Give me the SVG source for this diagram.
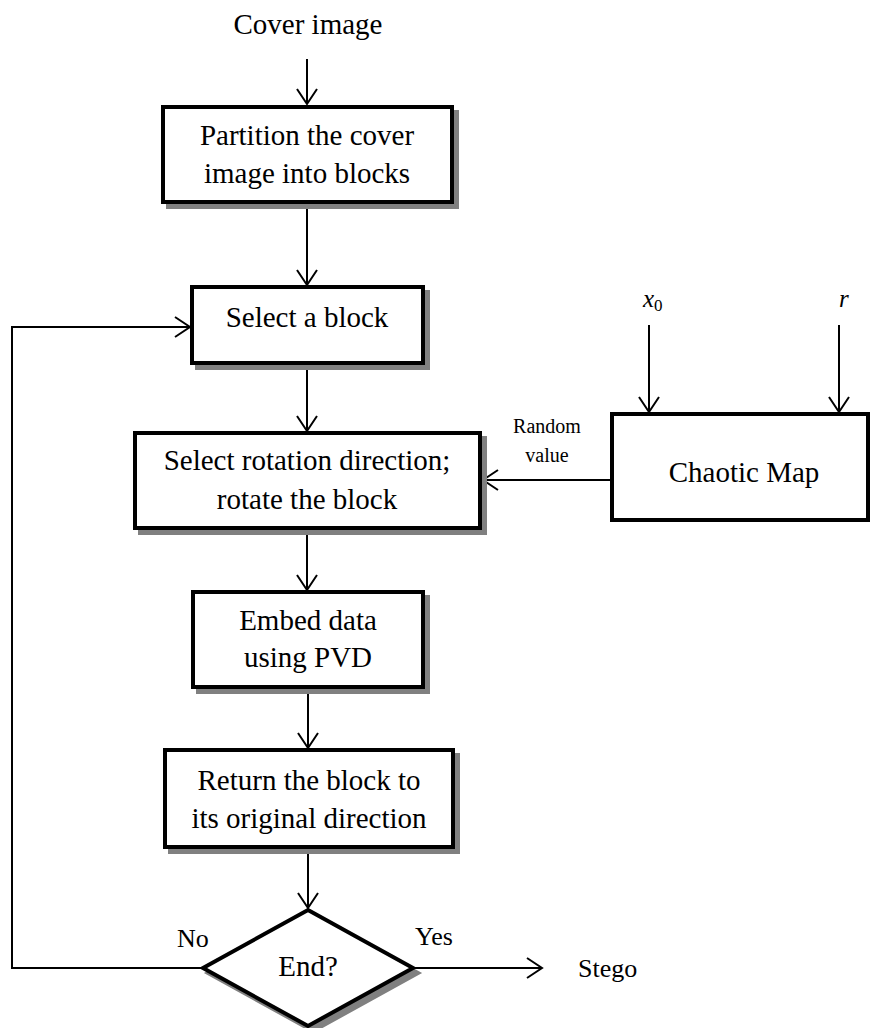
<svg xmlns="http://www.w3.org/2000/svg" width="870" height="1028" viewBox="0 0 870 1028">
<style>
text{font-family:"Liberation Serif","Times New Roman",serif;fill:#000;}
.t{font-size:29px;text-anchor:middle;}
.s{font-size:20px;text-anchor:middle;}
.box{fill:#fff;stroke:#000;stroke-width:4;}
.sh{fill:#808080;stroke:#808080;stroke-width:4;}
.c{fill:none;stroke:#000;stroke-width:2;}
</style>
<defs>
<marker id="arr" viewBox="-17 -12 20 24" refX="0" refY="0" markerWidth="20" markerHeight="24" markerUnits="userSpaceOnUse" orient="auto" overflow="visible">
<path d="M-15,-10 L0,0 L-15,10" fill="none" stroke="#000" stroke-width="2"/>
</marker>
</defs>
<rect width="870" height="1028" fill="#fff"/>
<g id="connectors">
<line class="c" x1="307" y1="59" x2="307" y2="104" marker-end="url(#arr)"/>
<line class="c" x1="307" y1="204" x2="307" y2="285" marker-end="url(#arr)"/>
<polyline class="c" points="203,968 12,968 12,327 190,327" marker-end="url(#arr)"/>
<line class="c" x1="307" y1="365" x2="307" y2="431" marker-end="url(#arr)"/>
<line class="c" x1="610" y1="480" x2="483" y2="480" marker-end="url(#arr)"/>
<line class="c" x1="649" y1="325" x2="649" y2="412" marker-end="url(#arr)"/>
<line class="c" x1="839" y1="325" x2="839" y2="412" marker-end="url(#arr)"/>
<line class="c" x1="307" y1="530" x2="307" y2="590" marker-end="url(#arr)"/>
<line class="c" x1="308" y1="689" x2="308" y2="748" marker-end="url(#arr)"/>
<line class="c" x1="308" y1="849" x2="308" y2="908" marker-end="url(#arr)"/>
<line class="c" x1="413" y1="968" x2="542" y2="968" marker-end="url(#arr)"/>
<text class="s" x="547" y="433">Random</text>
<text class="s" x="547" y="462">value</text>
<text x="177" y="947" style="font-size:26px">No</text>
<text x="415" y="945" style="font-size:26px">Yes</text>
</g>
<g id="cover"><text class="t" x="308" y="34">Cover image</text></g>
<g id="partition">
<rect class="sh" x="168" y="112" width="289" height="95"/>
<rect class="box" x="163" y="107" width="289" height="95"/>
<text class="t" x="307" y="145">Partition the cover</text>
<text class="t" x="307" y="183">image into blocks</text>
</g>
<g id="select">
<rect class="sh" x="197" y="292" width="231" height="76"/>
<rect class="box" x="192" y="287" width="231" height="76"/>
<text class="t" x="307" y="327">Select a block</text>
</g>
<g id="rotate">
<rect class="sh" x="140" y="438" width="345" height="95"/>
<rect class="box" x="135" y="433" width="345" height="95"/>
<text class="t" x="307" y="470">Select rotation direction;</text>
<text class="t" x="307" y="509">rotate the block</text>
</g>
<g id="chaotic">
<rect class="box" x="612" y="414" width="256" height="106"/>
<text class="t" x="744" y="482">Chaotic Map</text>
</g>
<g id="x0"><text x="643" y="307" style="font-size:25px;font-style:italic">x<tspan dy="4" style="font-size:17px;font-style:normal">0</tspan></text></g>
<g id="r"><text x="839" y="307" style="font-size:25px;font-style:italic">r</text></g>
<g id="embed">
<rect class="sh" x="198" y="597" width="230" height="95"/>
<rect class="box" x="193" y="592" width="230" height="95"/>
<text class="t" x="308" y="630">Embed data</text>
<text class="t" x="308" y="667">using PVD</text>
</g>
<g id="return">
<rect class="sh" x="170" y="755" width="288" height="97"/>
<rect class="box" x="165" y="750" width="288" height="97"/>
<text class="t" x="309" y="790">Return the block to</text>
<text class="t" x="309" y="828">its original direction</text>
</g>
<g id="end">
<polygon class="sh" points="313,915 418,973 313,1031 208,973"/>
<polygon class="box" points="308,910 413,968 308,1026 203,968"/>
<text class="t" x="308" y="976">End?</text>
</g>
<g id="stego"><text x="578" y="977" style="font-size:26px">Stego</text></g>
</svg>
